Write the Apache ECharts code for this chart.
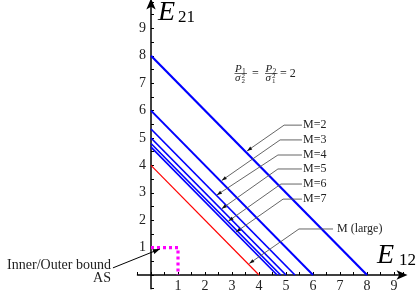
<!DOCTYPE html>
<html><head><meta charset="utf-8">
<script src="https://cdn.jsdelivr.net/npm/echarts@6/dist/echarts.min.js"></script>
<style>html,body{margin:0;padding:0;background:#fff}#c{width:416px;height:293px}</style>
</head><body><div id="c"></div>
<script>
// ---- data ----
const blueTotals = [8, 6, 5.33, 5, 4.8, 4.67];          // E12 + E21 = total, M=2..7
const blueWidths = [2.2, 2, 1.7, 1.7, 1.7, 1.7];
const largeTotal = 4;                                    // M (large)
const boundPoints = [[0, 1], [1, 1], [1, 0]];            // Inner/Outer bound AS
const xTicks = [1, 2, 3, 4, 5, 6, 7, 8, 9];
const yTicks = [1, 2, 3, 4, 5, 6, 7, 8, 9];
const mLabels = ['M=2', 'M=3', 'M=4', 'M=5', 'M=6', 'M=7', 'M (large)'];
// leader lines: [label anchor, corner, arrow tip] in data coords
const leaders = [
  [[5.59, 5.47], [4.93, 5.47], [3.56, 4.53]],
  [[5.59, 4.93], [4.78, 4.93], [2.62, 3.45]],
  [[5.59, 4.38], [4.70, 4.38], [2.44, 2.92]],
  [[5.59, 3.87], [4.70, 3.87], [2.62, 2.42]],
  [[5.59, 3.32], [4.81, 3.32], [2.87, 1.97]],
  [[5.59, 2.77], [4.89, 2.77], [3.15, 1.57]],
  [[6.74, 1.68], [5.48, 1.68], [3.64, 0.42]]
];
const boundArrow = [[-1.41, 0.26], [0.33, 0.95]];

const serif = '"Liberation Serif","DejaVu Serif",serif';
const chart = echarts.init(document.getElementById('c'), null, {renderer: 'canvas'});

const series = [];
blueTotals.forEach((t, i) => {
  series.push({type: 'line', data: [[0, t], [t, 0]], symbol: 'none', silent: true,
    lineStyle: {color: '#0000ff', width: blueWidths[i]}, z: 3});
});
series.push({type: 'line', data: [[0, largeTotal], [largeTotal, 0]], symbol: 'none',
  lineStyle: {color: '#ff0000', width: 1.2}, z: 3});
series.push({type: 'line', data: boundPoints, symbol: 'none',
  lineStyle: {color: '#ff00ff', width: 3.2, type: [3, 3]}, z: 4});

const fmt = ticks => v => (ticks.some(t => Math.abs(t - v) < 1e-6) ? String(Math.round(v)) : '');

chart.setOption({
  animation: false,
  grid: {left: 137.5, right: 12.5, top: 2.4, bottom: 4.3, containLabel: false, outerBoundsMode: 'none'},
  xAxis: {
    type: 'value', min: -0.5, max: 9.35, interval: 0.5,
    splitLine: {show: false},
    axisLine: {onZero: true, symbol: ['none', 'arrow'], symbolSize: [7, 11], symbolOffset: [0, 4],
      lineStyle: {color: '#000', width: 1.5}},
    axisTick: {inside: true, length: 3, lineStyle: {color: '#000', width: 1}},
    axisLabel: {formatter: fmt(xTicks), fontFamily: serif, fontSize: 14, color: '#222', margin: -9.5, showMinLabel: true, showMaxLabel: true}
  },
  yAxis: {
    type: 'value', min: -0.5, max: 9.95, interval: 0.5,
    splitLine: {show: false},
    axisLine: {onZero: true, symbol: ['none', 'arrow'], symbolSize: [7, 11], symbolOffset: [0, 4],
      lineStyle: {color: '#000', width: 1.5}},
    axisTick: {inside: true, length: 3, lineStyle: {color: '#000', width: 1}},
    axisLabel: {formatter: fmt(yTicks), fontFamily: serif, fontSize: 14, color: '#222', margin: -8.5}
  },
  series: series
});

function px(p) { return chart.convertToPixel({gridIndex: 0}, p); }
function arrowHead(tip, from, len, half, color) {
  const dx = tip[0] - from[0], dy = tip[1] - from[1];
  const d = Math.hypot(dx, dy), ux = dx / d, uy = dy / d;
  const bx = tip[0] - ux * len, by = tip[1] - uy * len;
  return {type: 'polygon', z: 20, silent: true,
    shape: {points: [tip, [bx - uy * half, by + ux * half], [bx + uy * half, by - ux * half]]},
    style: {fill: color}};
}

const g = [];
leaders.forEach((L, i) => {
  const a = px(L[0]), c = px(L[1]), t = px(L[2]);
  g.push({type: 'polyline', z: 15, silent: true, shape: {points: [a, c, t]},
    style: {stroke: '#555', lineWidth: 0.9, fill: null}});
  g.push(arrowHead(t, c, 5, 1.8, '#111'));
  g.push({type: 'text', z: 16, x: a[0] + (i === 6 ? 4 : 1), y: a[1],
    style: {text: mLabels[i], font: '12px ' + serif, fill: '#222', verticalAlign: 'middle', align: 'left'}});
});
// bound arrow
{
  const s = px(boundArrow[0]), t = px(boundArrow[1]);
  g.push({type: 'line', z: 15, silent: true, shape: {x1: s[0], y1: s[1], x2: t[0], y2: t[1]},
    style: {stroke: '#000', lineWidth: 1}});
  g.push(arrowHead(t, s, 7, 2.5, '#000'));
  g.push({type: 'text', z: 16, x: s[0] - 2, y: s[1] - 3,
    style: {text: 'Inner/Outer bound', font: '14px ' + serif, fill: '#222', align: 'right', verticalAlign: 'middle'}});
  g.push({type: 'text', z: 16, x: s[0] - 2, y: s[1] + 10,
    style: {text: 'AS', font: '14px ' + serif, fill: '#222', align: 'right', verticalAlign: 'middle'}});
}
// axis titles
g.push({type: 'text', z: 16, x: 158, y: 13, style: {text: 'E', font: 'italic 28px ' + serif, fill: '#000', verticalAlign: 'middle'}});
g.push({type: 'text', z: 16, x: 178, y: 17.5, style: {text: '21', font: '17px ' + serif, fill: '#000', verticalAlign: 'middle'}});
g.push({type: 'text', z: 16, x: 377, y: 256, style: {text: 'E', font: 'italic 28px ' + serif, fill: '#000', verticalAlign: 'middle'}});
g.push({type: 'text', z: 16, x: 399, y: 260.5, style: {text: '12', font: '17px ' + serif, fill: '#000', verticalAlign: 'middle'}});
// formula P1/σ2² = P2/σ1² = 2
function frac(x0, numSub, denSub) {
  g.push({type: 'text', z: 16, x: x0 + 0.5, y: 69.5, style: {text: 'P', font: 'italic 11px ' + serif, fill: '#222', verticalAlign: 'middle'}});
  g.push({type: 'text', z: 16, x: x0 + 7.5, y: 72, style: {text: numSub, font: '7.5px ' + serif, fill: '#222', verticalAlign: 'middle'}});
  g.push({type: 'line', z: 16, shape: {x1: x0, y1: 73.5, x2: x0 + 12.5, y2: 73.5}, style: {stroke: '#222', lineWidth: 0.7}});
  g.push({type: 'text', z: 16, x: x0 + 0.5, y: 78.5, style: {text: 'σ', font: 'italic 11px ' + serif, fill: '#222', verticalAlign: 'middle'}});
  g.push({type: 'text', z: 16, x: x0 + 7, y: 76.5, style: {text: '2', font: '7px ' + serif, fill: '#222', verticalAlign: 'middle'}});
  g.push({type: 'text', z: 16, x: x0 + 7, y: 81.5, style: {text: denSub, font: '7px ' + serif, fill: '#222', verticalAlign: 'middle'}});
}
frac(234.5, '1', '2');
g.push({type: 'text', z: 16, x: 252, y: 73.5, style: {text: '=', font: '12px ' + serif, fill: '#222', verticalAlign: 'middle'}});
frac(265, '2', '1');
g.push({type: 'text', z: 16, x: 280, y: 73.5, style: {text: '= 2', font: '12px ' + serif, fill: '#222', verticalAlign: 'middle'}});

chart.setOption({graphic: g});
</script></body></html>
